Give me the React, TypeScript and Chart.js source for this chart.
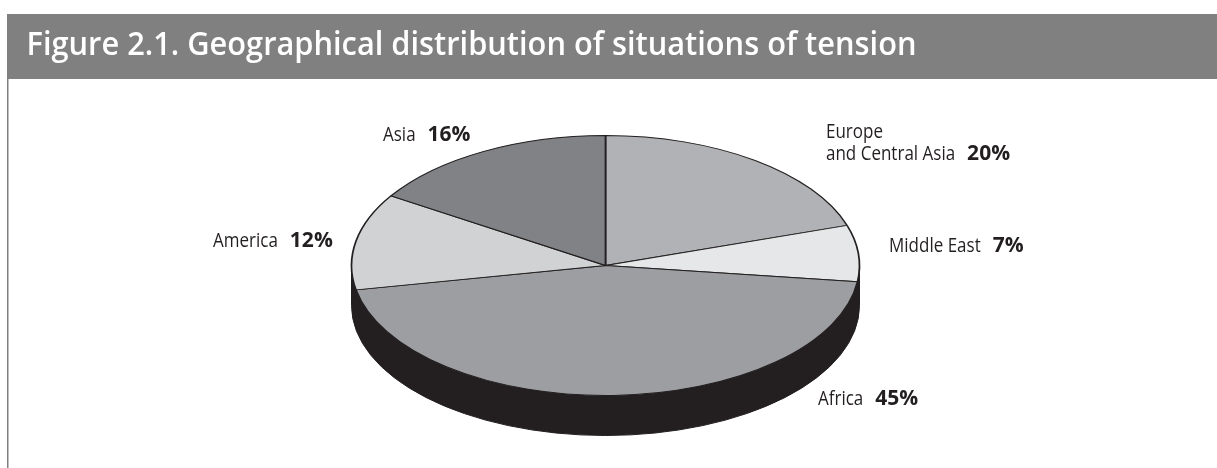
import React, { useEffect, useRef } from "react";
import { Chart, registerables } from "chart.js";

Chart.register(...registerables);

// ---- data ----
const categories = ["Europe\nand Central Asia", "Middle East", "Africa", "America", "Asia"];
const values = [20, 7, 45, 12, 16];
const sliceColors = ["#b1b2b5", "#e6e7e8", "#9d9ea2", "#d1d2d4", "#808285"];
const titleText = "Figure 2.1. Geographical distribution of situations of tension";

// ---- layout / style (kept apart from data) ----
const PIE = { cx: 605.5, cy: 265.5, rx: 254, ry: 130, depth: 40 };
const labelAnchors = [
  { x: 826, y: 160 },
  { x: 889, y: 252 },
  { x: 818, y: 405 },
  { x: 213, y: 247 },
  { x: 383, y: 141 },
];
const NAME_FONT = '400 20px "Open Sans"';
const NAME_SX = 0.85;
const PCT_FONT = '700 21px "Open Sans"';
const PCT_SX = 1.0;
const LINE_H = 22;
const GAP = 12;
const INK = "#231f20";
const BAND = "#808080";

function drawScaled(ctx: CanvasRenderingContext2D, t: string, x: number, y: number, sx: number) {
  ctx.save();
  ctx.translate(x, y);
  ctx.scale(sx, 1);
  ctx.fillText(t, 0, 0);
  ctx.restore();
}

const framePlugin = {
  id: "frame",
  beforeDraw(chart: any) {
    const ctx: CanvasRenderingContext2D = chart.ctx;
    ctx.save();
    ctx.fillStyle = "#ffffff";
    ctx.fillRect(0, 0, chart.width, chart.height);
    ctx.fillStyle = BAND;
    ctx.fillRect(7, 14, chart.width - 7, 65);
    ctx.fillRect(7, 79, 1.5, chart.height - 79);
    ctx.fillStyle = "#ffffff";
    ctx.font = '600 32px "Open Sans"';
    ctx.textBaseline = "alphabetic";
    const w = ctx.measureText(titleText).width;
    const sx = 890 / w;
    drawScaled(ctx, titleText, 26.5, 54.5, sx);
    ctx.restore();
  },
};

const pie3dPlugin = {
  id: "pie3d",
  beforeDatasetsDraw(chart: any) {
    const ctx: CanvasRenderingContext2D = chart.ctx;
    const arc: any = chart.getDatasetMeta(0).data[0];
    const { cx, cy, rx, ry, depth } = PIE;
    // side wall
    ctx.save();
    ctx.fillStyle = INK;
    ctx.strokeStyle = INK;
    ctx.lineWidth = 1;
    ctx.beginPath();
    ctx.moveTo(cx + rx, cy);
    ctx.lineTo(cx + rx, cy + depth);
    ctx.ellipse(cx, cy + depth, rx, ry, 0, 0, Math.PI, false);
    ctx.lineTo(cx - rx, cy);
    ctx.ellipse(cx, cy, rx, ry, 0, Math.PI, 0, true);
    ctx.closePath();
    ctx.fill();
    ctx.stroke();
    ctx.restore();
    // flatten the pie into an ellipse
    ctx.save();
    ctx.translate(cx, cy);
    ctx.scale(rx / arc.outerRadius, ry / arc.outerRadius);
    ctx.translate(-arc.x, -arc.y);
  },
  afterDatasetsDraw(chart: any) {
    chart.ctx.restore();
  },
};

const labelPlugin = {
  id: "sliceLabels",
  afterDraw(chart: any) {
    const ctx: CanvasRenderingContext2D = chart.ctx;
    const labels: string[] = chart.data.labels;
    const data: number[] = chart.data.datasets[0].data;
    ctx.save();
    ctx.fillStyle = INK;
    ctx.textBaseline = "alphabetic";
    labels.forEach((name, i) => {
      const a = labelAnchors[i];
      const lines = name.split("\n");
      ctx.font = NAME_FONT;
      lines.forEach((ln, j) => {
        drawScaled(ctx, ln, a.x, a.y - LINE_H * (lines.length - 1 - j), NAME_SX);
      });
      const w = ctx.measureText(lines[lines.length - 1]).width * NAME_SX;
      ctx.font = PCT_FONT;
      drawScaled(ctx, `${data[i]}%`, a.x + w + GAP, a.y, PCT_SX);
    });
    ctx.restore();
  },
};

export default function App() {
  const ref = useRef<HTMLCanvasElement>(null);
  useEffect(() => {
    const canvas = ref.current;
    if (!canvas) return;
    const chart = new Chart(canvas, {
      type: "pie",
      data: {
        labels: categories,
        datasets: [
          {
            data: values,
            backgroundColor: sliceColors,
            borderColor: INK,
            borderWidth: 1.6,
            hoverOffset: 0,
            clip: false,
          } as any,
        ],
      },
      options: {
        responsive: false,
        animation: false,
        events: [],
        layout: { padding: 0 },
        plugins: {
          legend: { display: false },
          tooltip: { enabled: false },
          title: { display: false },
        },
      },
      plugins: [framePlugin, pie3dPlugin, labelPlugin],
    });
    return () => chart.destroy();
  }, []);
  return (
    <div style={{ position: "absolute", left: 0, top: 0, width: 1217, height: 468, background: "#fff" }}>
      <canvas ref={ref} width={1217} height={468} style={{ display: "block", width: 1217, height: 468 }} />
    </div>
  );
}
